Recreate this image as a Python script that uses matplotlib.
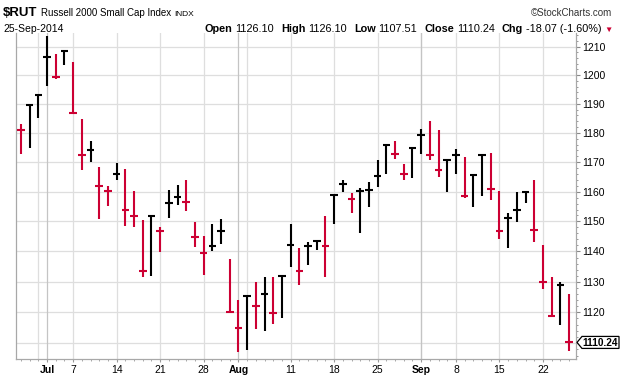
import numpy as np
import pandas as pd
import matplotlib
matplotlib.use("Agg")
import matplotlib.pyplot as plt
import matplotlib.ticker as mticker
from matplotlib.patches import Polygon
from matplotlib.transforms import IdentityTransform

plt.rcParams['font.family'] = ['Liberation Sans', 'DejaVu Sans']

# ---------------- data ----------------
holidays = ['2014-07-04', '2014-09-01']
dates = pd.bdate_range('2014-06-26', '2014-09-25')
dates = dates[~dates.isin(pd.to_datetime(holidays))]

highs = [1182.9, 1189.5, 1193.4, 1213.7, 1207.4, 1208.3, 1204.7, 1184.8, 1177.4, 1168.4,
         1161.9, 1169.8, 1167.7, 1160.1, 1150.4, 1151.9, 1148.0, 1160.6, 1162.3, 1164.0,
         1149.8, 1145.1, 1149.1, 1150.8, 1137.4, 1124.1, 1125.3, 1129.8, 1131.6, 1131.6,
         1131.8, 1149.1, 1141.2, 1143.3, 1143.9, 1151.7, 1158.8, 1164.1, 1159.4, 1161.1,
         1163.2, 1170.8, 1176.0, 1177.1, 1169.4, 1175.0, 1181.5, 1184.0, 1180.9, 1170.6,
         1174.4, 1171.6, 1165.5, 1172.7, 1173.1, 1160.1, 1153.0, 1159.8, 1160.3, 1164.0,
         1142.0, 1131.6, 1129.8, 1126.10]
lows = [1172.8, 1175.0, 1185.1, 1196.1, 1198.6, 1203.5, 1186.7, 1167.2, 1170.2, 1150.8,
        1155.3, 1163.8, 1148.5, 1148.2, 1131.5, 1131.8, 1139.8, 1151.2, 1155.6, 1153.6,
        1141.5, 1132.1, 1140.1, 1142.4, 1120.0, 1107.2, 1107.8, 1114.6, 1114.0, 1116.2,
        1118.3, 1135.0, 1129.1, 1135.6, 1140.4, 1131.6, 1149.3, 1159.8, 1152.7, 1146.3,
        1154.9, 1161.7, 1166.0, 1171.1, 1164.0, 1164.7, 1172.8, 1170.9, 1165.1, 1160.0,
        1166.0, 1157.8, 1154.9, 1158.7, 1157.3, 1144.0, 1141.0, 1149.9, 1156.1, 1143.1,
        1127.7, 1118.9, 1116.0, 1107.51]
closes = [1180.9, 1189.5, 1193.0, 1206.2, 1199.4, 1208.3, 1186.7, 1172.4, 1174.2, 1162.0,
          1160.2, 1166.1, 1153.9, 1151.9, 1133.7, 1151.9, 1146.9, 1156.3, 1158.3, 1156.6,
          1144.8, 1139.5, 1141.8, 1146.9, 1120.0, 1115.0, 1125.3, 1122.0, 1125.9, 1119.8,
          1131.8, 1142.0, 1133.4, 1141.8, 1143.5, 1141.8, 1158.8, 1162.6, 1157.5, 1160.3,
          1160.6, 1165.4, 1175.8, 1172.8, 1166.0, 1174.7, 1179.4, 1172.6, 1167.5, 1170.6,
          1172.6, 1158.7, 1165.5, 1172.4, 1160.9, 1146.9, 1151.1, 1154.0, 1159.8, 1147.3,
          1129.8, 1118.9, 1128.9, 1110.24]
prev_close = 1185.0

y_ticks = [1110, 1120, 1130, 1140, 1150, 1160, 1170, 1180, 1190, 1200, 1210]

# ---------------- figure ----------------
W, H = 620, 376
fig = plt.figure(figsize=(W / 100, H / 100), dpi=100)
L, R, T, B = 16, 576, 33, 359
ax = fig.add_axes([L / W, 1 - B / H, (R - L) / W, (B - T) / H])

RED = '#cc0033'
n = len(closes)
x = np.arange(n)
pc = np.r_[prev_close, closes[:-1]]
cols = [RED if c < p else 'black' for c, p in zip(closes, pc)]

ax.set_yscale('log')
ax.set_ylim(1104.9, 1214.8)
ax.set_xlim(-0.57, n - 1 + 0.8)

# y axis: the last-price tag covers the 1110 label
ax.yaxis.set_major_locator(mticker.FixedLocator(y_ticks))
ax.yaxis.set_major_formatter(mticker.FixedFormatter(
    ['' if abs(v - closes[-1]) < 3 else str(v) for v in y_ticks]))
minor_y = [v for v in np.arange(1106, 1216, 2) if v % 10 != 0]
ax.yaxis.set_minor_locator(mticker.FixedLocator(minor_y))
ax.yaxis.set_minor_formatter(mticker.NullFormatter())
for v in y_ticks:
    ax.axhline(v, color='#dedede', lw=0.9, zorder=0)

dser = pd.Series(dates)
week_start = [i for i in range(1, n) if dser[i].isocalendar()[1] != dser[i - 1].isocalendar()[1]]
month_start = [i for i in range(1, n) if dser[i].month != dser[i - 1].month]
for i in week_start:
    ax.axvline(i, color='#dedede', lw=0.9, zorder=0)
for i in month_start:
    ax.axvline(i, color='#c4c4c4', lw=0.9, zorder=0)

# x labels
tick_pos, tick_lab = [], []
for i in month_start:
    tick_pos.append(i)
    tick_lab.append(dser[i].strftime('%b'))
for i in week_start:
    if all(abs(i - m) > 2 for m in month_start):
        tick_pos.append(i)
        tick_lab.append(str(dser[i].day))
order = np.argsort(tick_pos)
tick_pos = [tick_pos[k] for k in order]
tick_lab = [tick_lab[k] for k in order]
ax.set_xticks(tick_pos)
ax.set_xticklabels(tick_lab)
ax.xaxis.set_minor_locator(mticker.FixedLocator(x))
for lab in ax.get_xticklabels():
    if lab.get_text().isalpha():
        lab.set_fontweight('bold')
ax.tick_params(axis='x', which='major', length=2, pad=2.5, labelsize=7.5, color='#999999')
ax.tick_params(axis='x', which='minor', length=1.5, color='#999999')

ax.yaxis.tick_right()
ax.tick_params(axis='y', which='major', length=3, pad=1.5, labelsize=7.5, color='#888888')
ax.tick_params(axis='y', which='minor', length=1.5, color='#888888')

for s in ['left', 'bottom', 'right']:
    ax.spines[s].set_color('#a8a8a8')
    ax.spines[s].set_linewidth(0.9)
ax.spines['top'].set_visible(False)

# bars
ax.vlines(x, lows, highs, colors=cols, lw=1.5, zorder=3, capstyle='butt')
ax.hlines(closes, x - 0.44, x + 0.44, colors=cols, lw=1.5, zorder=3, capstyle='butt')

# last price tag
fig.canvas.draw()
yd = ax.transData.transform((0, closes[-1]))[1]
xr = ax.transAxes.transform((1, 0))[0]
hh = 6
verts = [(xr + 1, yd), (xr + 6, yd + hh), (xr + 43, yd + hh), (xr + 43, yd - hh), (xr + 6, yd - hh)]
fig.add_artist(Polygon(verts, closed=True, facecolor='white', edgecolor='black', lw=0.9,
                       transform=IdentityTransform(), zorder=5))
fig.text(xr + 24.5, yd - 0.3, f'{closes[-1]:.2f}', transform=IdentityTransform(),
         ha='center', va='center', fontsize=7.3, fontweight='bold', zorder=6)

# header
renderer = fig.canvas.get_renderer()


def put(segs, x0, ybase, align='left'):
    arts = []
    widths = []
    for s, kw, gap in segs:
        t = fig.text(0, 0, s, transform=IdentityTransform(), va='baseline', ha='left', **kw)
        arts.append((t, gap))
        widths.append(t.get_window_extent(renderer).width)
    total = sum(widths) + sum(g for _, g in arts[:-1])
    xs = x0 if align == 'left' else x0 - total
    for (t, gap), w in zip(arts, widths):
        t.set_position((xs, H - ybase))
        xs += w + gap


put([('$RUT', dict(fontsize=9.5, fontweight='bold'), 4),
     ('Russell 2000 Small Cap Index', dict(fontsize=7), 3),
     ('INDX', dict(fontsize=6), 0)], 3, 16.5)
put([('25-Sep-2014', dict(fontsize=7.5), 0)], 3, 31.5)
put([('\u00a9StockCharts.com', dict(fontsize=7, color='#333333'), 0)], 612, 16, align='right')

b = dict(fontsize=7.8, fontweight='bold')
r = dict(fontsize=7.8)
put([('Open', b, 3), ('1126.10', r, 7), ('High', b, 3), ('1126.10', r, 7),
     ('Low', b, 3), ('1107.51', r, 7), ('Close', b, 3), ('1110.24', r, 7),
     ('Chg', b, 3), ('-18.07 (-1.60%)', r, 3),
     ('\u25bc', dict(fontsize=6, color=RED), 0)], 613, 31.5, align='right')

fig.savefig('out.png', dpi=100)
